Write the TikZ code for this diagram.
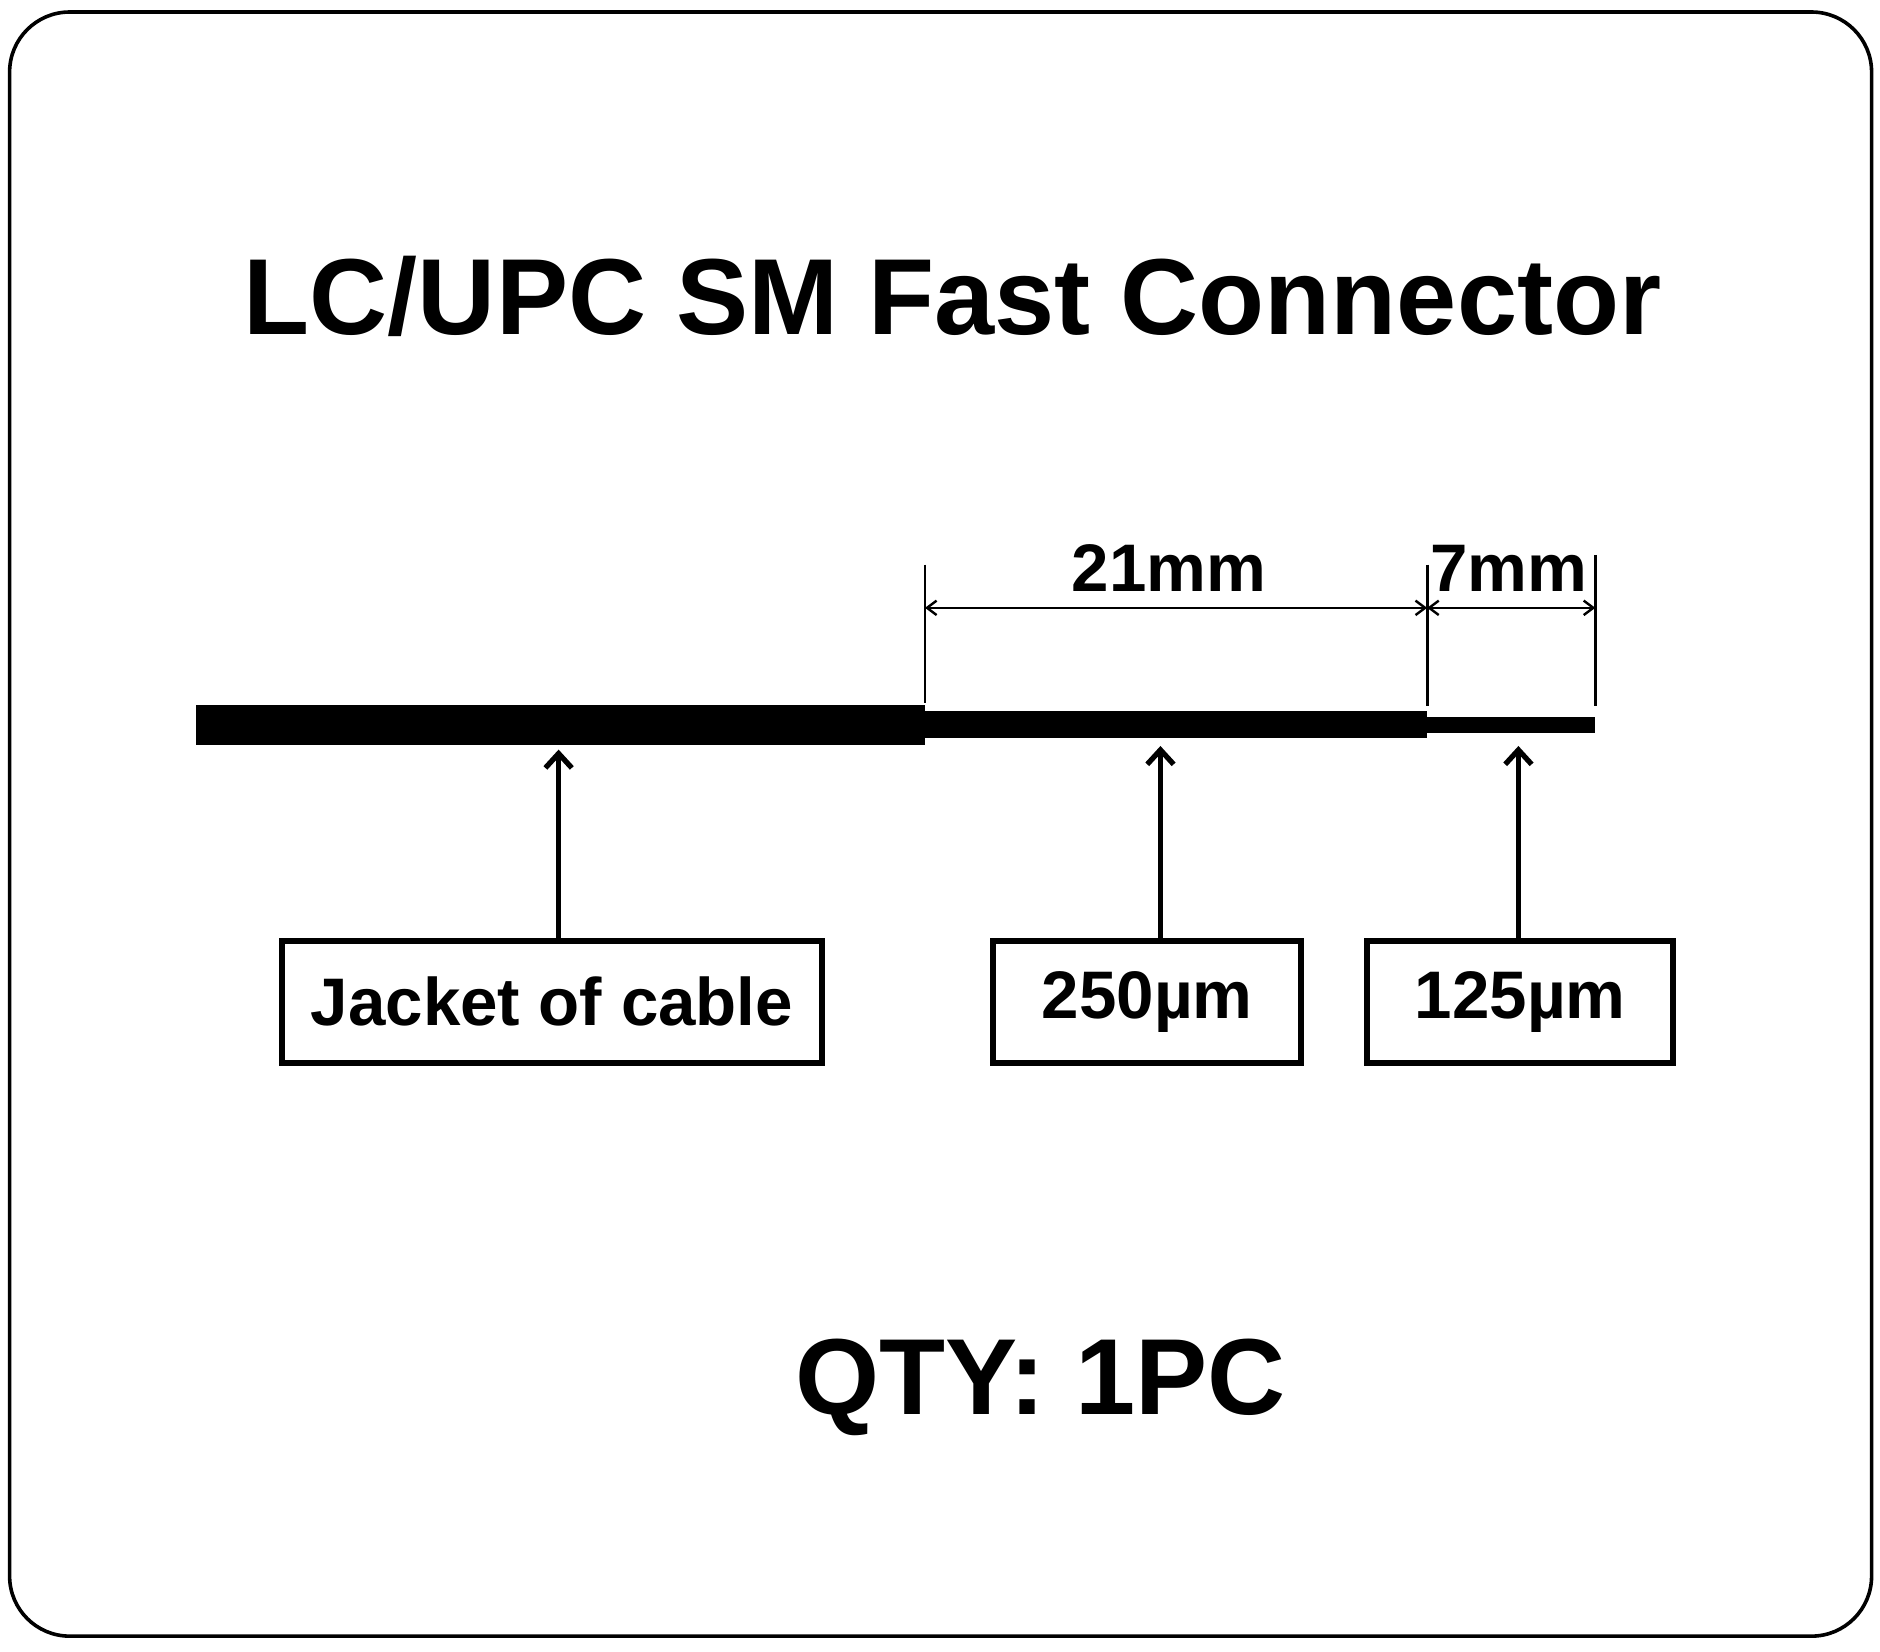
\documentclass[tikz,border=0pt]{standalone}
\usepackage{fontspec}
\setmainfont{Liberation Sans}
\usetikzlibrary{arrows.meta}
\begin{document}
\begin{tikzpicture}[x=0.5pt,y=-0.5pt,
  lbl/.style={draw,line width=2.5pt,minimum height=51pt,inner sep=0pt,font=\fontsize{28}{29}\selectfont\bfseries},
  up/.style={line width=2pt,-{Straight Barb[length=6pt,width=11pt,line width=2.2pt]}},
  tick/.style={line width=1.2pt},
  dim/.style={line width=1pt,{Straight Barb[length=4pt,width=6pt]}-{Straight Barb[length=4pt,width=6pt]}}]
\useasboundingbox (0,0) rectangle (1565,1375);
\draw[line width=1.5pt,rounded corners=25pt] (8,10) rectangle (1558,1362);
\node[font=\fontsize{45}{46}\selectfont\bfseries] (title) at (793,247) {LC/UPC SM Fast Connector};
\fill (163,587) rectangle (770,620);
\fill (770,592) rectangle (1188,614);
\fill (1188,597) rectangle (1328,610);
\coordinate (t1a) at (770,470); \coordinate (t1b) at (770,585);
\coordinate (t2a) at (1188,470); \coordinate (t2b) at (1188,588);
\coordinate (t3a) at (1328,462); \coordinate (t3b) at (1328,588);
\draw[tick] (t1a)--(t1b); \draw[tick] (t2a)--(t2b); \draw[tick] (t3a)--(t3b);
\coordinate (d1) at (770,506); \coordinate (d2) at (1188,506); \coordinate (d3) at (1328,506);
\draw[dim] (d1)--(d2); \draw[dim] (d2)--(d3);
\node[font=\fontsize{28}{29}\selectfont\bfseries] (l21) at (973,473) {21mm};
\node[font=\fontsize{28}{29}\selectfont\bfseries] (l7) at (1256,473) {7mm};
\node[lbl,minimum width=225pt] (jk) at (459.5,834) {Jacket of cable};
\node[lbl,minimum width=128pt] (b250) at (955,834) {250µm};
\node[lbl,minimum width=127.5pt] (b125) at (1265.5,834) {125µm};
\coordinate (a1) at (465,624); \coordinate (a2) at (966,621); \coordinate (a3) at (1264,621);
\draw[up] (jk.north -| a1) -- (a1);
\draw[up] (b250.north -| a2) -- (a2);
\draw[up] (b125.north -| a3) -- (a3);
\node[font=\fontsize{45}{46}\selectfont\bfseries] (qty) at (866,1155) {QTY: 1PC};
\end{tikzpicture}
\end{document}
